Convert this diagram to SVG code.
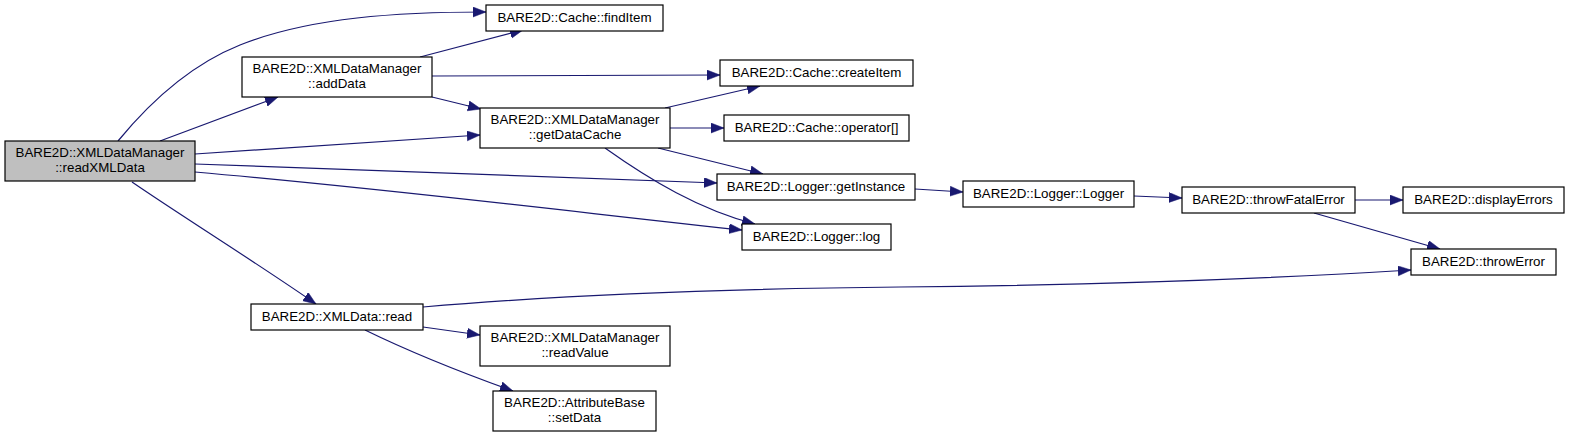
<svg xmlns="http://www.w3.org/2000/svg" width="1569" height="438" viewBox="0 0 1569 438">
<style>
.n rect{fill:#ffffff;stroke:#000000;stroke-width:1.2}
.n.hl rect{fill:#bfbfbf}
.n text{font-family:"Liberation Sans",Arial,sans-serif;font-size:13.33px;fill:#000000;text-anchor:middle}
.e path{fill:none;stroke:#191970;stroke-width:1.2}
</style>
<defs>
<marker id="ah" markerUnits="userSpaceOnUse" markerWidth="14" markerHeight="11" refX="13" refY="5" orient="auto">
<path d="M0,0 L13,5 L0,10 z" fill="#191970" stroke="#191970" stroke-width="0.5"/>
</marker>
</defs>
<rect width="1569" height="438" fill="#ffffff"/>
<g id="edges" class="e">
<path d="M118,141 C150,102 190,65 240,45 C310,17 400,12 486,12" marker-end="url(#ah)"/>
<path d="M160,141 L278,97" marker-end="url(#ah)"/>
<path d="M195,154 L480,135" marker-end="url(#ah)"/>
<path d="M195,164 L717,183" marker-end="url(#ah)"/>
<path d="M195,172 C400,190 600,215 742,230" marker-end="url(#ah)"/>
<path d="M132,182 C180,215 260,265 316,304" marker-end="url(#ah)"/>
<path d="M420,57 L523,30" marker-end="url(#ah)"/>
<path d="M432,76 L720,75" marker-end="url(#ah)"/>
<path d="M432,97 L481,109" marker-end="url(#ah)"/>
<path d="M665,108 L760,86" marker-end="url(#ah)"/>
<path d="M670,128 L724,128" marker-end="url(#ah)"/>
<path d="M658,148 L763,174" marker-end="url(#ah)"/>
<path d="M605,148 C650,180 700,210 755,224" marker-end="url(#ah)"/>
<path d="M915,189 L963,192" marker-end="url(#ah)"/>
<path d="M1134,196 L1182,198" marker-end="url(#ah)"/>
<path d="M1355,200 L1403,200" marker-end="url(#ah)"/>
<path d="M1314,213 L1440,249" marker-end="url(#ah)"/>
<path d="M423,307 C550,296 700,289 900,287 C1100,285 1250,280 1411,270" marker-end="url(#ah)"/>
<path d="M423,327 L480,335" marker-end="url(#ah)"/>
<path d="M365,330 C410,352 460,372 513,391" marker-end="url(#ah)"/>
</g>
<g id="readXMLData" class="n hl"><rect x="5" y="141" width="190" height="40"/><text x="100" y="157">BARE2D::XMLDataManager</text><text x="100" y="172">::readXMLData</text></g>
<g id="addData" class="n"><rect x="242" y="57" width="190" height="40"/><text x="337" y="73">BARE2D::XMLDataManager</text><text x="337" y="88">::addData</text></g>
<g id="findItem" class="n"><rect x="486" y="5" width="177" height="26"/><text x="574.5" y="22">BARE2D::Cache::findItem</text></g>
<g id="createItem" class="n"><rect x="720" y="60" width="193" height="26"/><text x="816.5" y="77">BARE2D::Cache::createItem</text></g>
<g id="getDataCache" class="n"><rect x="480" y="108" width="190" height="40"/><text x="575" y="124">BARE2D::XMLDataManager</text><text x="575" y="139">::getDataCache</text></g>
<g id="operator" class="n"><rect x="724" y="115" width="185" height="26"/><text x="816.5" y="132">BARE2D::Cache::operator[]</text></g>
<g id="getInstance" class="n"><rect x="717" y="174" width="198" height="26"/><text x="816" y="191">BARE2D::Logger::getInstance</text></g>
<g id="log" class="n"><rect x="742" y="224" width="149" height="26"/><text x="816.5" y="241">BARE2D::Logger::log</text></g>
<g id="Logger" class="n"><rect x="963" y="181" width="171" height="26"/><text x="1048.5" y="198">BARE2D::Logger::Logger</text></g>
<g id="throwFatalError" class="n"><rect x="1182" y="187" width="173" height="26"/><text x="1268.5" y="204">BARE2D::throwFatalError</text></g>
<g id="displayErrors" class="n"><rect x="1403" y="187" width="161" height="26"/><text x="1483.5" y="204">BARE2D::displayErrors</text></g>
<g id="throwError" class="n"><rect x="1411" y="249" width="145" height="26"/><text x="1483.5" y="266">BARE2D::throwError</text></g>
<g id="read" class="n"><rect x="251" y="304" width="172" height="26"/><text x="337" y="321">BARE2D::XMLData::read</text></g>
<g id="readValue" class="n"><rect x="480" y="326" width="190" height="40"/><text x="575" y="342">BARE2D::XMLDataManager</text><text x="575" y="357">::readValue</text></g>
<g id="setData" class="n"><rect x="493" y="391" width="163" height="40"/><text x="574.5" y="407">BARE2D::AttributeBase</text><text x="574.5" y="422">::setData</text></g>
</svg>
